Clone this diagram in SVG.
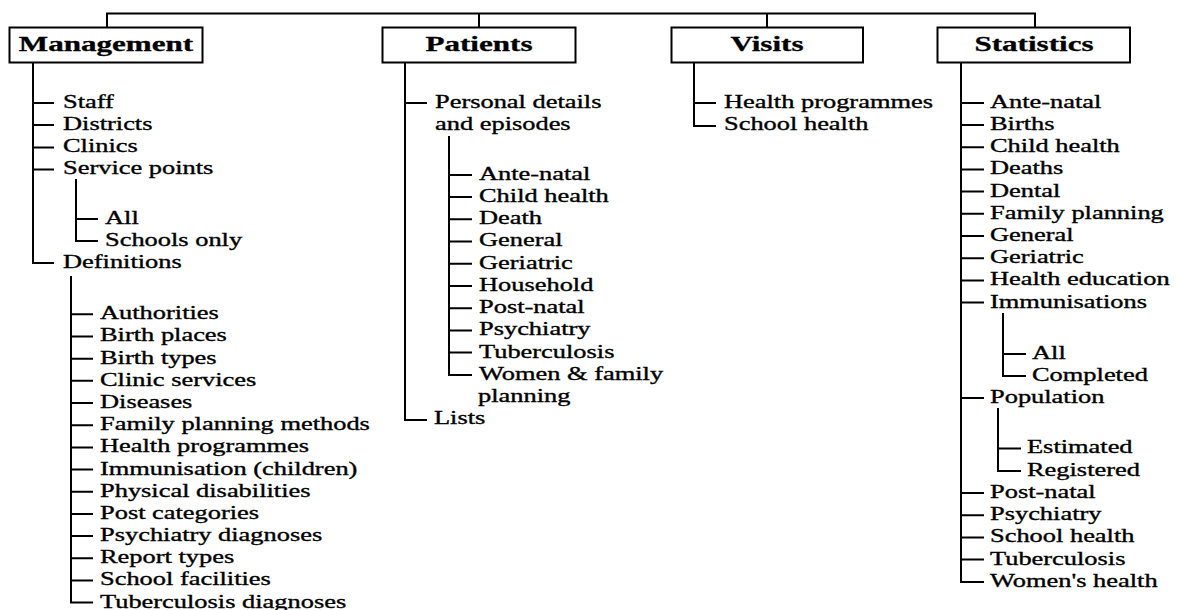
<svg xmlns="http://www.w3.org/2000/svg" width="1182" height="610" viewBox="0 0 1182 610">
  <style>
    .bg { fill: #ffffff; }
    .ln { fill: none; stroke: #000; stroke-width: 2; stroke-linecap: square; }
    .box { fill: #ffffff; stroke: #000; stroke-width: 2; }
    .h { font-family: "Liberation Serif", "Times New Roman", serif; font-weight: bold; font-size: 21px; fill: #000; text-anchor: middle;
         stroke: #000; stroke-width: 0.3;
         transform-box: fill-box; transform-origin: 50% 50%; transform: scaleX(1.48); }
    .i { font-family: "Liberation Serif", "Times New Roman", serif; font-size: 19px; fill: #000;
         stroke: #000; stroke-width: 0.35;
         transform-box: fill-box; transform-origin: 0 0; transform: scaleX(1.39); }
  </style>

  <rect class="bg" x="0" y="0" width="1182" height="610"/>

  <!-- tree connectors -->
  <g id="connectors" class="ln">
    <!-- top bus and drops to the four section boxes -->
    <path d="M107,13.5 H1035 M107,13.5 V27 M479,13.5 V27 M767,13.5 V27 M1035,13.5 V27"/>

    <!-- Management -->
    <path d="M33,63 V263 H53 M33,103 H53 M33,125 H53 M33,147.5 H53 M33,169.5 H53"/>
    <path d="M76,180 V241 H97 M76,219 H97"/>
    <path d="M71,277 V602.6 H92 M71,314.3 H92 M71,336.5 H92 M71,358.7 H92 M71,380.8 H92 M71,403 H92 M71,425.2 H92 M71,447.4 H92 M71,469.6 H92 M71,491.8 H92 M71,514 H92 M71,536.1 H92 M71,558.3 H92 M71,580.5 H92"/>

    <!-- Patients -->
    <path d="M405,63 V420 H426 M405,103 H426"/>
    <path d="M449,137 V375 H471 M449,175 H471 M449,197 H471 M449,219.3 H471 M449,241.5 H471 M449,263.7 H471 M449,286 H471 M449,308.2 H471 M449,330.4 H471 M449,352.6 H471"/>

    <!-- Visits -->
    <path d="M694,63 V126 H715 M694,103 H715"/>

    <!-- Statistics -->
    <path d="M961,63 V582 H983 M961,103 H983 M961,125 H983 M961,147.2 H983 M961,169.4 H983 M961,191.6 H983 M961,213.8 H983 M961,236 H983 M961,258.2 H983 M961,280.4 H983 M961,302.6 H983 M961,398 H983 M961,493 H983 M961,515.2 H983 M961,537.4 H983 M961,559.6 H983"/>
    <path d="M1003,314 V376 H1025 M1003,354 H1025"/>
    <path d="M998,409 V471 H1020 M998,448.5 H1020"/>
  </g>

  <!-- Management section -->
  <g id="management">
    <rect class="box" x="9.5" y="27.5" width="193" height="35"/>
    <text class="h" x="106" y="51">Management</text>
    <text class="i" x="63" y="107.7">Staff</text>
    <text class="i" x="63" y="130">Districts</text>
    <text class="i" x="63" y="152.3">Clinics</text>
    <text class="i" x="63" y="174.5">Service points</text>
    <text class="i" x="105" y="224">All</text>
    <text class="i" x="105" y="246">Schools only</text>
    <text class="i" x="63" y="268">Definitions</text>
    <text class="i" x="100" y="319.3">Authorities</text>
    <text class="i" x="100" y="341.5">Birth places</text>
    <text class="i" x="100" y="363.7">Birth types</text>
    <text class="i" x="100" y="385.8">Clinic services</text>
    <text class="i" x="100" y="408">Diseases</text>
    <text class="i" x="100" y="430.2">Family planning methods</text>
    <text class="i" x="100" y="452.4">Health programmes</text>
    <text class="i" x="100" y="474.6">Immunisation (children)</text>
    <text class="i" x="100" y="496.8">Physical disabilities</text>
    <text class="i" x="100" y="519">Post categories</text>
    <text class="i" x="100" y="541.1">Psychiatry diagnoses</text>
    <text class="i" x="100" y="563.3">Report types</text>
    <text class="i" x="100" y="585.5">School facilities</text>
    <text class="i" x="100" y="607.6">Tuberculosis diagnoses</text>
  </g>

  <!-- Patients section -->
  <g id="patients">
    <rect class="box" x="382.5" y="27.5" width="193" height="35"/>
    <text class="h" x="479" y="51">Patients</text>
    <text class="i" x="435" y="108.3">Personal details</text>
    <text class="i" x="435" y="130">and episodes</text>
    <text class="i" x="479" y="180">Ante-natal</text>
    <text class="i" x="479" y="202">Child health</text>
    <text class="i" x="479" y="224.3">Death</text>
    <text class="i" x="479" y="246.5">General</text>
    <text class="i" x="479" y="268.7">Geriatric</text>
    <text class="i" x="479" y="291">Household</text>
    <text class="i" x="479" y="313.2">Post-natal</text>
    <text class="i" x="479" y="335.4">Psychiatry</text>
    <text class="i" x="479" y="357.6">Tuberculosis</text>
    <text class="i" x="479" y="379.8">Women &amp; family</text>
    <text class="i" x="478" y="402">planning</text>
    <text class="i" x="434" y="424.5">Lists</text>
  </g>

  <!-- Visits section -->
  <g id="visits">
    <rect class="box" x="671.5" y="27.5" width="191.5" height="35"/>
    <text class="h" x="767" y="51">Visits</text>
    <text class="i" x="724" y="108">Health programmes</text>
    <text class="i" x="724" y="130">School health</text>
  </g>

  <!-- Statistics section -->
  <g id="statistics">
    <rect class="box" x="937.5" y="27.5" width="192.5" height="35"/>
    <text class="h" x="1034" y="51">Statistics</text>
    <text class="i" x="990" y="108">Ante-natal</text>
    <text class="i" x="990" y="130">Births</text>
    <text class="i" x="990" y="152.2">Child health</text>
    <text class="i" x="990" y="174.4">Deaths</text>
    <text class="i" x="990" y="196.6">Dental</text>
    <text class="i" x="990" y="218.8">Family planning</text>
    <text class="i" x="990" y="241">General</text>
    <text class="i" x="990" y="263.2">Geriatric</text>
    <text class="i" x="990" y="285.4">Health education</text>
    <text class="i" x="990" y="307.6">Immunisations</text>
    <text class="i" x="1032" y="359">All</text>
    <text class="i" x="1032" y="381">Completed</text>
    <text class="i" x="990" y="403">Population</text>
    <text class="i" x="1027" y="453.5">Estimated</text>
    <text class="i" x="1027" y="476">Registered</text>
    <text class="i" x="990" y="498">Post-natal</text>
    <text class="i" x="990" y="520.2">Psychiatry</text>
    <text class="i" x="990" y="542.4">School health</text>
    <text class="i" x="990" y="564.6">Tuberculosis</text>
    <text class="i" x="990" y="586.8">Women's health</text>
  </g>
</svg>
